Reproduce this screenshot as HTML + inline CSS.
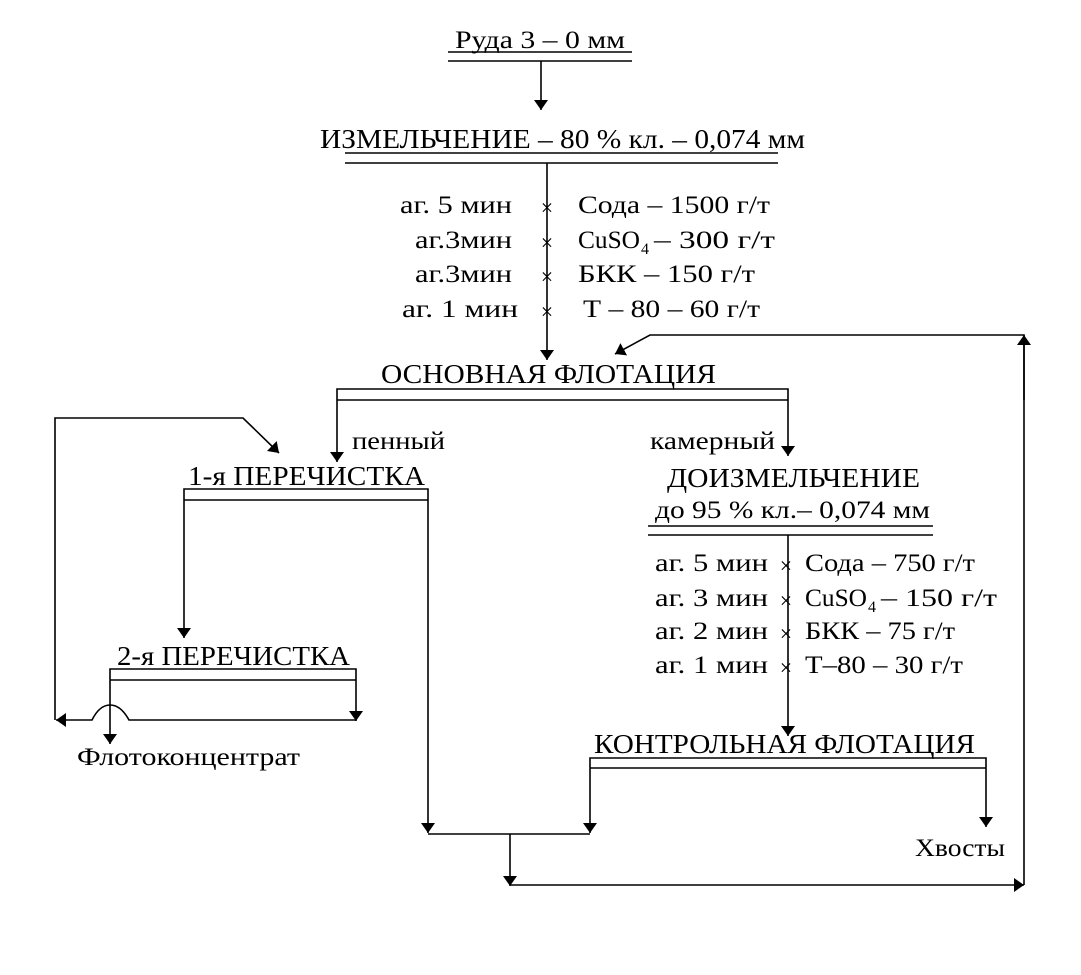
<!DOCTYPE html>
<html><head><meta charset="utf-8"><style>
html,body{margin:0;padding:0;background:#fff}
svg{display:block}
text{font-family:"Liberation Serif",serif;fill:#000}
</style></head><body>
<svg width="1081" height="975" viewBox="0 0 1081 975" xmlns="http://www.w3.org/2000/svg">
<defs>
<marker id="a" viewBox="0 0 10 14" refX="10" refY="7" markerWidth="10" markerHeight="14" markerUnits="userSpaceOnUse" orient="auto"><path d="M0,0 L10,7 L0,14 Z" fill="#000"/></marker>
</defs>
<g stroke="#000" stroke-width="1.6" fill="none">
<line x1="448" y1="52" x2="632" y2="52"/>
<line x1="448" y1="61" x2="632" y2="61"/>
<line x1="541" y1="61" x2="541" y2="110" marker-end="url(#a)"/>
<line x1="345" y1="153" x2="778" y2="153"/>
<line x1="345" y1="163" x2="778" y2="163"/>
<line x1="547" y1="163" x2="547" y2="360" marker-end="url(#a)"/>
<polyline points="337,400 337,389 788,389 788,400"/>
<line x1="337" y1="400" x2="788" y2="400"/>
<line x1="337" y1="400" x2="337" y2="462" marker-end="url(#a)"/>
<line x1="788" y1="400" x2="788" y2="456" marker-end="url(#a)"/>
<polyline points="1024,885 1024,335 650,335 615,354" marker-end="url(#a)"/>
<line x1="1024" y1="400" x2="1024" y2="335" marker-end="url(#a)"/>
<polyline points="184,500 184,489 428,489 428,500"/>
<line x1="184" y1="500" x2="428" y2="500"/>
<line x1="184" y1="500" x2="184" y2="638" marker-end="url(#a)"/>
<line x1="428" y1="500" x2="428" y2="833" marker-end="url(#a)"/>
<polyline points="110,680 110,669 356,669 356,680"/>
<line x1="110" y1="680" x2="356" y2="680"/>
<line x1="356" y1="680" x2="356" y2="721" marker-end="url(#a)"/>
<line x1="110" y1="680" x2="110" y2="744" marker-end="url(#a)"/>
<path d="M356,720 L129,720 C118,700 102,700 92,720 L56,720" marker-end="url(#a)"/>
<polyline points="55,720 55,418 243,418 279,453" marker-end="url(#a)"/>
<line x1="648" y1="526" x2="933" y2="526"/>
<line x1="648" y1="535" x2="933" y2="535"/>
<line x1="788" y1="535" x2="788" y2="736" marker-end="url(#a)"/>
<polyline points="590,768 590,758 986,758 986,768"/>
<line x1="590" y1="768" x2="986" y2="768"/>
<line x1="590" y1="768" x2="590" y2="833" marker-end="url(#a)"/>
<line x1="986" y1="768" x2="986" y2="827" marker-end="url(#a)"/>
<line x1="428" y1="834" x2="590" y2="834"/>
<line x1="510" y1="834" x2="510" y2="886" marker-end="url(#a)"/>
<line x1="510" y1="885" x2="1024" y2="885" marker-end="url(#a)"/>
</g>
<g font-size="25">
<text x="455" y="48" font-size="25" textLength="170" lengthAdjust="spacingAndGlyphs">Руда 3 – 0 мм</text>
<text x="320" y="148" font-size="27" textLength="485" lengthAdjust="spacingAndGlyphs">ИЗМЕЛЬЧЕНИЕ – 80 % кл. – 0,074 мм</text>
<text x="400" y="213" textLength="112" lengthAdjust="spacingAndGlyphs">аг. 5 мин</text>
<text x="415" y="248" textLength="97" lengthAdjust="spacingAndGlyphs">аг.3мин</text>
<text x="415" y="282" textLength="97" lengthAdjust="spacingAndGlyphs">аг.3мин</text>
<text x="402" y="317" textLength="116" lengthAdjust="spacingAndGlyphs">аг. 1 мин</text>
<g text-anchor="middle" font-size="22">
<text x="547" y="215">×</text><text x="547" y="250">×</text><text x="547" y="284">×</text><text x="547" y="319">×</text>
</g>
<text x="578" y="213" textLength="192" lengthAdjust="spacingAndGlyphs">Сода – 1500 г/т</text>
<text x="578" y="248" font-size="25" textLength="62" lengthAdjust="spacingAndGlyphs">CuSO</text><text x="641" y="254" font-size="16">4</text><text x="654" y="248" font-size="25" textLength="121" lengthAdjust="spacingAndGlyphs">– 300 г/т</text>
<text x="578" y="282" textLength="177" lengthAdjust="spacingAndGlyphs">БКК – 150 г/т</text>
<text x="583" y="317" textLength="177" lengthAdjust="spacingAndGlyphs">Т – 80 – 60 г/т</text>
<text x="381" y="383" font-size="27" textLength="335" lengthAdjust="spacingAndGlyphs">ОСНОВНАЯ ФЛОТАЦИЯ</text>
<text x="352" y="449" textLength="93" lengthAdjust="spacingAndGlyphs">пенный</text>
<text x="650" y="449" textLength="125" lengthAdjust="spacingAndGlyphs">камерный</text>
<text x="188" y="485" font-size="27" textLength="237" lengthAdjust="spacingAndGlyphs">1-я ПЕРЕЧИСТКА</text>
<text x="667" y="487" font-size="27" textLength="253" lengthAdjust="spacingAndGlyphs">ДОИЗМЕЛЬЧЕНИЕ</text>
<text x="655" y="518" textLength="275" lengthAdjust="spacingAndGlyphs">до 95 % кл.– 0,074 мм</text>
<text x="655" y="571" textLength="113" lengthAdjust="spacingAndGlyphs">аг. 5 мин</text>
<text x="655" y="606" textLength="113" lengthAdjust="spacingAndGlyphs">аг. 3 мин</text>
<text x="655" y="639" textLength="113" lengthAdjust="spacingAndGlyphs">аг. 2 мин</text>
<text x="655" y="673" textLength="113" lengthAdjust="spacingAndGlyphs">аг. 1 мин</text>
<g text-anchor="middle" font-size="22">
<text x="786" y="573">×</text><text x="786" y="608">×</text><text x="786" y="641">×</text><text x="786" y="675">×</text>
</g>
<text x="805" y="571" textLength="170" lengthAdjust="spacingAndGlyphs">Сода – 750 г/т</text>
<text x="805" y="606" font-size="25" textLength="62" lengthAdjust="spacingAndGlyphs">CuSO</text><text x="868" y="612" font-size="16">4</text><text x="881" y="606" font-size="25" textLength="116" lengthAdjust="spacingAndGlyphs">– 150 г/т</text>
<text x="805" y="639" textLength="150" lengthAdjust="spacingAndGlyphs">БКК – 75 г/т</text>
<text x="805" y="673" textLength="158" lengthAdjust="spacingAndGlyphs">Т–80 – 30 г/т</text>
<text x="117" y="665" font-size="27" textLength="233" lengthAdjust="spacingAndGlyphs">2-я ПЕРЕЧИСТКА</text>
<text x="77" y="765" textLength="223" lengthAdjust="spacingAndGlyphs">Флотоконцентрат</text>
<text x="594" y="753" font-size="27" textLength="381" lengthAdjust="spacingAndGlyphs">КОНТРОЛЬНАЯ ФЛОТАЦИЯ</text>
<text x="915" y="856" textLength="90" lengthAdjust="spacingAndGlyphs">Хвосты</text>
</g>
</svg>
</body></html>
